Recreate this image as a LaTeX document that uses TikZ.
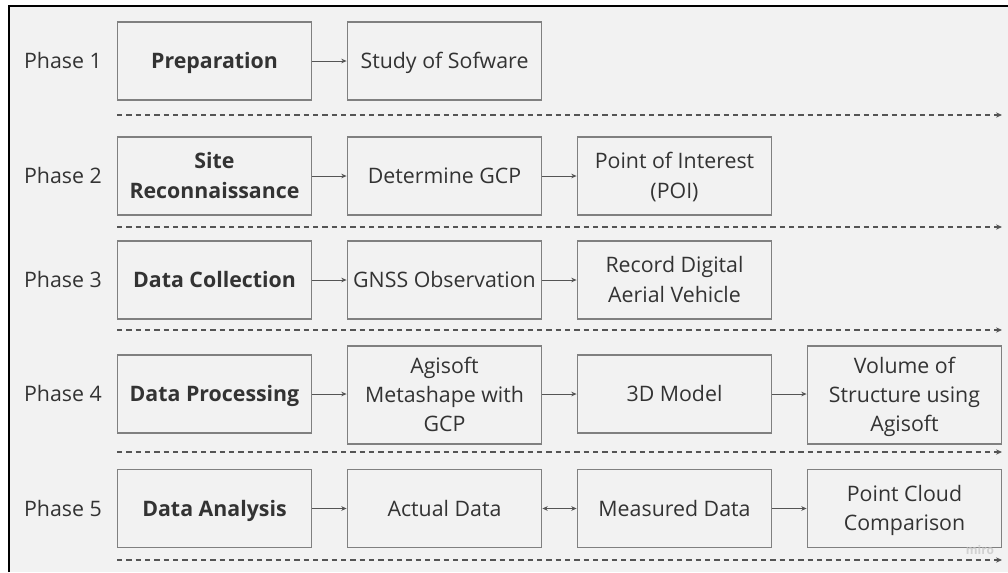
\documentclass[tikz,border=0pt]{standalone}
\usepackage{fontspec}
\setmainfont{Open Sans}
\usepackage{tikz}
\usetikzlibrary{arrows.meta}
\definecolor{MiroBg}{RGB}{242,242,242}
\definecolor{MiroEdge}{RGB}{128,128,128}
\definecolor{MiroText}{RGB}{51,51,51}
\definecolor{MiroLine}{RGB}{85,85,85}

\begin{document}
\begin{tikzpicture}[x=0.75pt, y=-0.75pt,
          box/.style={rectangle, draw=MiroEdge, line width=0.9pt, fill=MiroBg,
                      minimum width=146pt, minimum height=58.5pt, align=center,
                      text height=11.4pt, text depth=0pt,
                      text=MiroText, font=\fontsize{16}{22}\selectfont},
          two/.style={text height=33.4pt},
          three/.style={text height=55.4pt, minimum height=73.5pt},
          phase/.style={text=MiroText, text height=11.4pt, text depth=0pt,
                        font=\fontsize{16}{22}\selectfont},
          arr/.style={-{Stealth[length=4pt, width=3.5pt]}, draw=MiroLine, line width=0.6pt},
          darr/.style={{Stealth[length=4pt, width=3.5pt]}-{Stealth[length=4pt, width=3.5pt]},
                       draw=MiroLine, line width=0.6pt},
          sep/.style={-{Stealth[length=4.5pt, width=4pt]}, draw=MiroLine, line width=0.8pt,
                      dash pattern=on 4pt off 3pt}
        ]
        \useasboundingbox (0,0) rectangle (1008,572);
        \fill[white] (0,0) rectangle (1008,572);
        \fill[MiroBg] (9,6) rectangle (1008,572);
        \draw[black, line width=2pt] (9,572) -- (9,6) -- (1008,6);

        % Phase 1
        \node[phase] (ph1) at (63,61) {Phase 1};
        \node[box] (p1a) at (214.5,61) {\textbf{Preparation}};
        \node[box] (p1b) at (444.5,61) {Study of Sofware};
        \draw[arr] (p1a)--(p1b);
        \coordinate (s1a) at (117,115);
        \coordinate (s1b) at (1002,115);
        \draw[sep] (s1a)--(s1b);

        % Phase 2
        \node[phase] (ph2) at (63,176) {Phase 2};
        \node[box, two] (p2a) at (214.5,176) {\textbf{Site}\\\textbf{Reconnaissance}};
        \node[box] (p2b) at (444.5,176) {Determine GCP};
        \node[box, two] (p2c) at (674.5,176) {Point of Interest\\(POI)};
        \draw[arr] (p2a)--(p2b);
        \draw[arr] (p2b)--(p2c);
        \coordinate (s2a) at (117,227);
        \coordinate (s2b) at (1002,227);
        \draw[sep] (s2a)--(s2b);

        % Phase 3
        \node[phase] (ph3) at (63,280) {Phase 3};
        \node[box] (p3a) at (214.5,280) {\textbf{Data Collection}};
        \node[box] (p3b) at (444.5,280) {GNSS Observation};
        \node[box, two] (p3c) at (674.5,280) {Record Digital\\Aerial Vehicle};
        \draw[arr] (p3a)--(p3b);
        \draw[arr] (p3b)--(p3c);
        \coordinate (s3a) at (117,330);
        \coordinate (s3b) at (1002,330);
        \draw[sep] (s3a)--(s3b);

        % Phase 4
        \node[phase] (ph4) at (63,394) {Phase 4};
        \node[box] (p4a) at (214.5,394) {\textbf{Data Processing}};
        \node[box, three] (p4b) at (444.5,395) {Agisoft\\Metashape with\\GCP};
        \node[box] (p4c) at (674.5,394) {3D Model};
        \node[box, three] (p4d) at (904.5,395) {Volume of\\Structure using\\Agisoft};
        \draw[arr] (p4a)--(p4a-|p4b.west);
        \draw[arr] (p4b.east|-p4c)--(p4c);
        \draw[arr] (p4c)--(p4c-|p4d.west);
        \coordinate (s4a) at (117,452);
        \coordinate (s4b) at (1002,452);
        \draw[sep] (s4a)--(s4b);

        % Phase 5
        \node[phase] (ph5) at (63,508.5) {Phase 5};
        \node[box] (p5a) at (214.5,508.5) {\textbf{Data Analysis}};
        \node[box] (p5b) at (444.5,508.5) {Actual Data};
        \node[box] (p5c) at (674.5,508.5) {Measured Data};
        \node[box, two] (p5d) at (904.5,508.5) {Point Cloud\\Comparison};
        \draw[arr] (p5a)--(p5b);
        \draw[darr] (p5b)--(p5c);
        \draw[arr] (p5c)--(p5d);
        \coordinate (s5a) at (117,560);
        \coordinate (s5b) at (1002,560);
        \draw[sep] (s5a)--(s5b);

        % watermark
        \node[text=black!18, font=\fontsize{9}{10}\selectfont\bfseries] (wm) at (980,550) {miro};
      \end{tikzpicture}
\end{document}
